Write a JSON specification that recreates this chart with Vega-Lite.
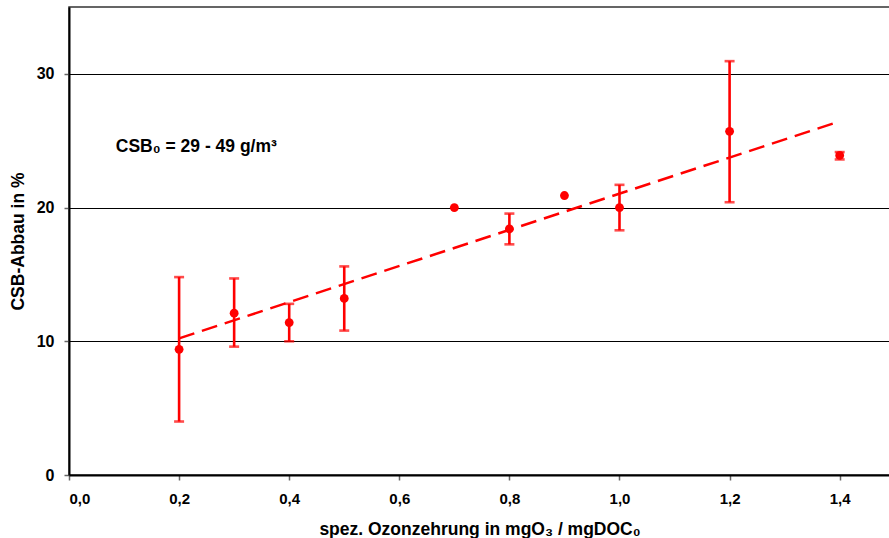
{
  "$schema": "https://vega.github.io/schema/vega-lite/v6.json",
  "width": 821,
  "height": 468,
  "autosize": "none",
  "padding": {"left": 69, "top": 7, "right": 0, "bottom": 63},
  "background": "white",
  "config": {
    "font": "Liberation Sans",
    "view": {"stroke": "#333333", "strokeWidth": 1.5},
    "axis": {
      "labelFont": "Liberation Sans",
      "labelFontWeight": "bold",
      "labelColor": "black",
      "titleFont": "Liberation Sans",
      "titleFontWeight": "bold",
      "titleColor": "black",
      "domainColor": "black",
      "domainWidth": 2,
      "tickColor": "#666666",
      "tickWidth": 1.5,
      "tickSize": 5
    }
  },
  "datasets": {
    "messungen": [
      {"x": 0.2, "abbau": 9.4, "lo": 4.0, "hi": 14.8},
      {"x": 0.3, "abbau": 12.1, "lo": 9.6, "hi": 14.7},
      {"x": 0.4, "abbau": 11.4, "lo": 10.0, "hi": 12.8},
      {"x": 0.5, "abbau": 13.2, "lo": 10.8, "hi": 15.6},
      {"x": 0.7, "abbau": 20.0, "lo": null, "hi": null},
      {"x": 0.8, "abbau": 18.4, "lo": 17.25, "hi": 19.55},
      {"x": 0.9, "abbau": 20.9, "lo": null, "hi": null},
      {"x": 1.0, "abbau": 20.0, "lo": 18.3, "hi": 21.7},
      {"x": 1.2, "abbau": 25.7, "lo": 20.4, "hi": 30.95},
      {"x": 1.4, "abbau": 23.9, "lo": 23.6, "hi": 24.15}
    ],
    "trend": [
      {"x": 0.2, "abbau": 10.22},
      {"x": 1.4, "abbau": 26.45}
    ],
    "hinweis": [
      {"x": 0.085, "abbau": 24.56, "text": "CSB₀ = 29 - 49 g/m³"}
    ]
  },
  "layer": [
    {
      "data": {"name": "trend"},
      "mark": {"type": "line", "color": "#ff0000", "strokeWidth": 2.5, "strokeDash": [16, 8]},
      "encoding": {
        "x": {
          "field": "x",
          "type": "quantitative",
          "title": "spez. Ozonzehrung in mgO₃ / mgDOC₀",
          "scale": {"domain": [0, 1.4914], "nice": false, "zero": false},
          "axis": {
            "values": [0, 0.2, 0.4, 0.6, 0.8, 1.0, 1.2, 1.4],
            "labelExpr": "replace(format(datum.value, '.1f'), '.', ',')",
            "labelFontSize": 15,
            "labelPadding": 11,
            "grid": false,
            "titleFontSize": 17.5,
            "titleBaseline": "alphabetic",
            "titleY": 59
          }
        },
        "y": {
          "field": "abbau",
          "type": "quantitative",
          "title": "CSB-Abbau in %",
          "scale": {"domain": [0, 35], "nice": false},
          "axis": {
            "values": [0, 10, 20, 30],
            "labelFontSize": 16,
            "labelPadding": 10,
            "grid": true,
            "gridColor": "black",
            "gridWidth": 1,
            "gridOpacity": 1,
            "titleFontSize": 17.5,
            "titleAngle": -90,
            "titleBaseline": "alphabetic",
            "titleX": -46
          }
        }
      }
    },
    {
      "data": {"name": "messungen"},
      "transform": [{"filter": "datum.lo != null"}],
      "mark": {
        "type": "errorbar",
        "color": "#ff0000",
        "thickness": 2.6,
        "ticks": {"size": 10, "thickness": 2.6, "color": "#ff0000"}
      },
      "encoding": {
        "x": {"field": "x", "type": "quantitative", "title": "spez. Ozonzehrung in mgO₃ / mgDOC₀"},
        "y": {"field": "lo", "type": "quantitative", "title": "CSB-Abbau in %"},
        "y2": {"field": "hi"}
      }
    },
    {
      "data": {"name": "messungen"},
      "mark": {"type": "circle", "color": "#ff0000", "opacity": 1, "size": 78},
      "encoding": {
        "x": {"field": "x", "type": "quantitative", "title": "spez. Ozonzehrung in mgO₃ / mgDOC₀"},
        "y": {"field": "abbau", "type": "quantitative", "title": "CSB-Abbau in %"}
      }
    },
    {
      "data": {"name": "hinweis"},
      "mark": {
        "type": "text",
        "align": "left",
        "baseline": "middle",
        "font": "Liberation Sans",
        "fontWeight": "bold",
        "fontSize": 17.5,
        "color": "black"
      },
      "encoding": {
        "x": {"field": "x", "type": "quantitative", "title": "spez. Ozonzehrung in mgO₃ / mgDOC₀"},
        "y": {"field": "abbau", "type": "quantitative", "title": "CSB-Abbau in %"},
        "text": {"field": "text"}
      }
    }
  ]
}
